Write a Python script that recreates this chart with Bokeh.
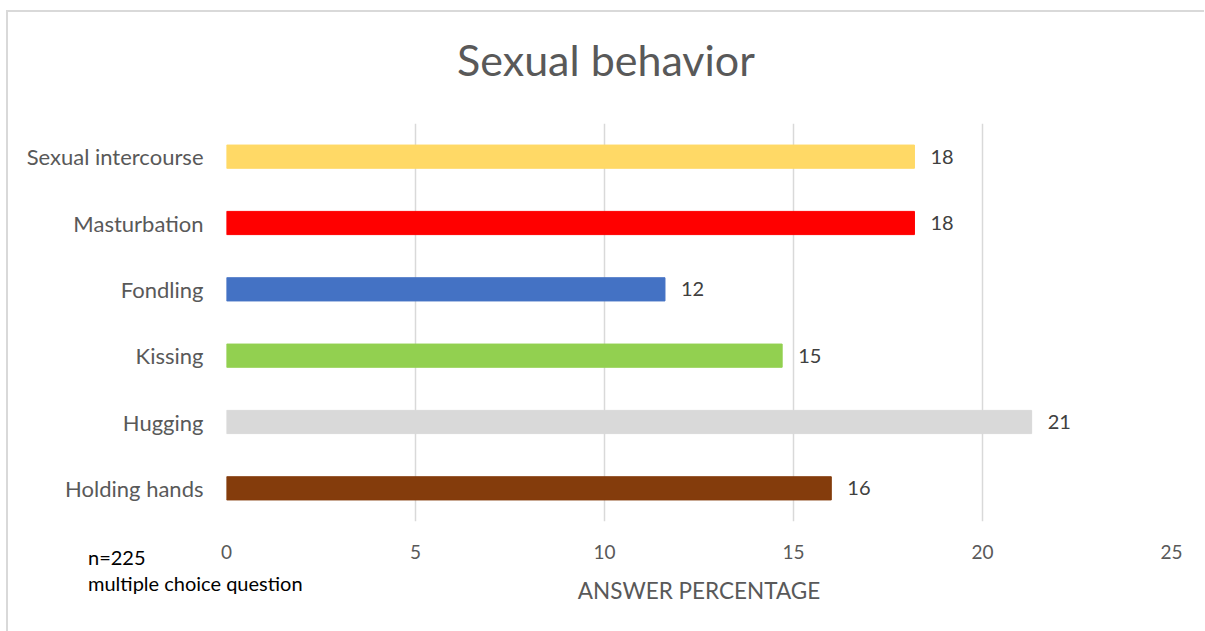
from bokeh.plotting import figure
from bokeh.models import ColumnDataSource, LabelSet, FactorRange, Div
from bokeh.layouts import column
from bokeh.core.properties import value
from bokeh.embed import file_html
from bokeh.resources import INLINE

title_text = "Sexual behavior"
categories = ["Sexual intercourse", "Masturbation", "Fondling", "Kissing", "Hugging", "Holding hands"]
values = [18.2, 18.2, 11.6, 14.7, 21.3, 16.0]
colors = ["#FFD966", "#FF0000", "#4472C4", "#92D050", "#D9D9D9", "#843C0C"]
value_labels = [str(int(round(v))) for v in values]
x_ticks = [0, 5, 10, 15, 20, 25]
note_lines = ["n=225", "multiple choice question"]

FONT = "Lato"

src = ColumnDataSource(dict(cat=categories, val=values, color=colors, lab=value_labels))

title_div = Div(text=title_text, width=600, height=52, margin=(34, 0, 0, 306),
                styles={"font-family": "Lato", "font-size": "43px", "line-height": "52px",
                        "color": "#595959", "text-align": "center", "position": "relative",
                        "z-index": "10", "white-space": "nowrap"})

p = figure(width=1198, height=621, output_backend="svg", toolbar_location=None,
           y_range=FactorRange(*list(reversed(categories))), x_range=(0, 25),
           min_border_left=218, min_border_right=35, min_border_top=111, min_border_bottom=112)
p.margin = (-76, 0, 0, 6)
p.styles = {"border-top": "2px solid #d9d9d9", "border-left": "2px solid #d9d9d9",
            "box-sizing": "border-box"}
p.outline_line_color = None
p.background_fill_color = "white"

p.hbar(y="cat", right="val", left=0, height=0.35, color="color", source=src)

p.add_layout(LabelSet(x="val", y="cat", text="lab", source=src, x_offset=16,
                      text_align="left", text_baseline="middle", text_font=value(FONT),
                      text_font_size="20px", text_color="#404040"))

p.xaxis.ticker = x_ticks
p.xaxis.axis_line_color = None
p.xaxis.major_tick_line_color = None
p.xaxis.minor_tick_line_color = None
p.xaxis.major_label_text_font = FONT
p.xaxis.major_label_text_font_size = "19px"
p.xaxis.major_label_text_color = "#595959"
p.xaxis.major_label_standoff = 17
p.xaxis.axis_label = "ANSWER PERCENTAGE"
p.xaxis.axis_label_text_font = FONT
p.xaxis.axis_label_text_font_size = "22.5px"
p.xaxis.axis_label_text_font_style = "normal"
p.xaxis.axis_label_text_color = "#595959"
p.xaxis.axis_label_standoff = 15

p.yaxis.axis_line_color = None
p.yaxis.major_tick_line_color = None
p.yaxis.minor_tick_line_color = None
p.yaxis.major_label_text_font = FONT
p.yaxis.major_label_text_font_size = "22px"
p.yaxis.major_label_text_color = "#595959"
p.yaxis.major_label_standoff = 17

p.ygrid.grid_line_color = None
p.xgrid.grid_line_color = "#D9D9D9"
p.xgrid.grid_line_width = 1.5

note = Div(text="<br>".join(note_lines), width=260, height=60,
           margin=(-87, 0, 0, 88),
           styles={"font-family": "Lato", "font-size": "20px", "line-height": "26px",
                   "color": "#000000", "position": "relative", "z-index": "10",
                   "white-space": "nowrap"})

layout = column(title_div, p, note)

open("out.html", "w").write(file_html(layout, INLINE))
